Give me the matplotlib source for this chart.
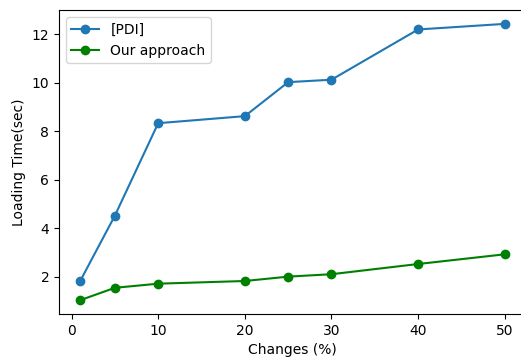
import matplotlib
matplotlib.use('Agg')
import matplotlib.pyplot as plt

changes = [1, 5, 10, 20, 25, 30, 40, 50]
pdi_time = [1.83, 4.52, 8.33, 8.62, 10.02, 10.12, 12.19, 12.42]
our_time = [1.04, 1.55, 1.72, 1.83, 2.01, 2.11, 2.53, 2.93]

fig = plt.figure(figsize=(5.21, 3.58), dpi=100)
ax = fig.add_axes([0.1132, 0.1229, 0.8964, 0.849])

ax.plot(changes, pdi_time, marker='o', label='[PDI]')
ax.plot(changes, our_time, marker='o', color='green', label='Our approach')

ax.set_xlabel('Changes (%)')
ax.set_ylabel('Loading Time(sec)')
ax.legend(loc='upper left')

fig.savefig('out.png', dpi=100)
